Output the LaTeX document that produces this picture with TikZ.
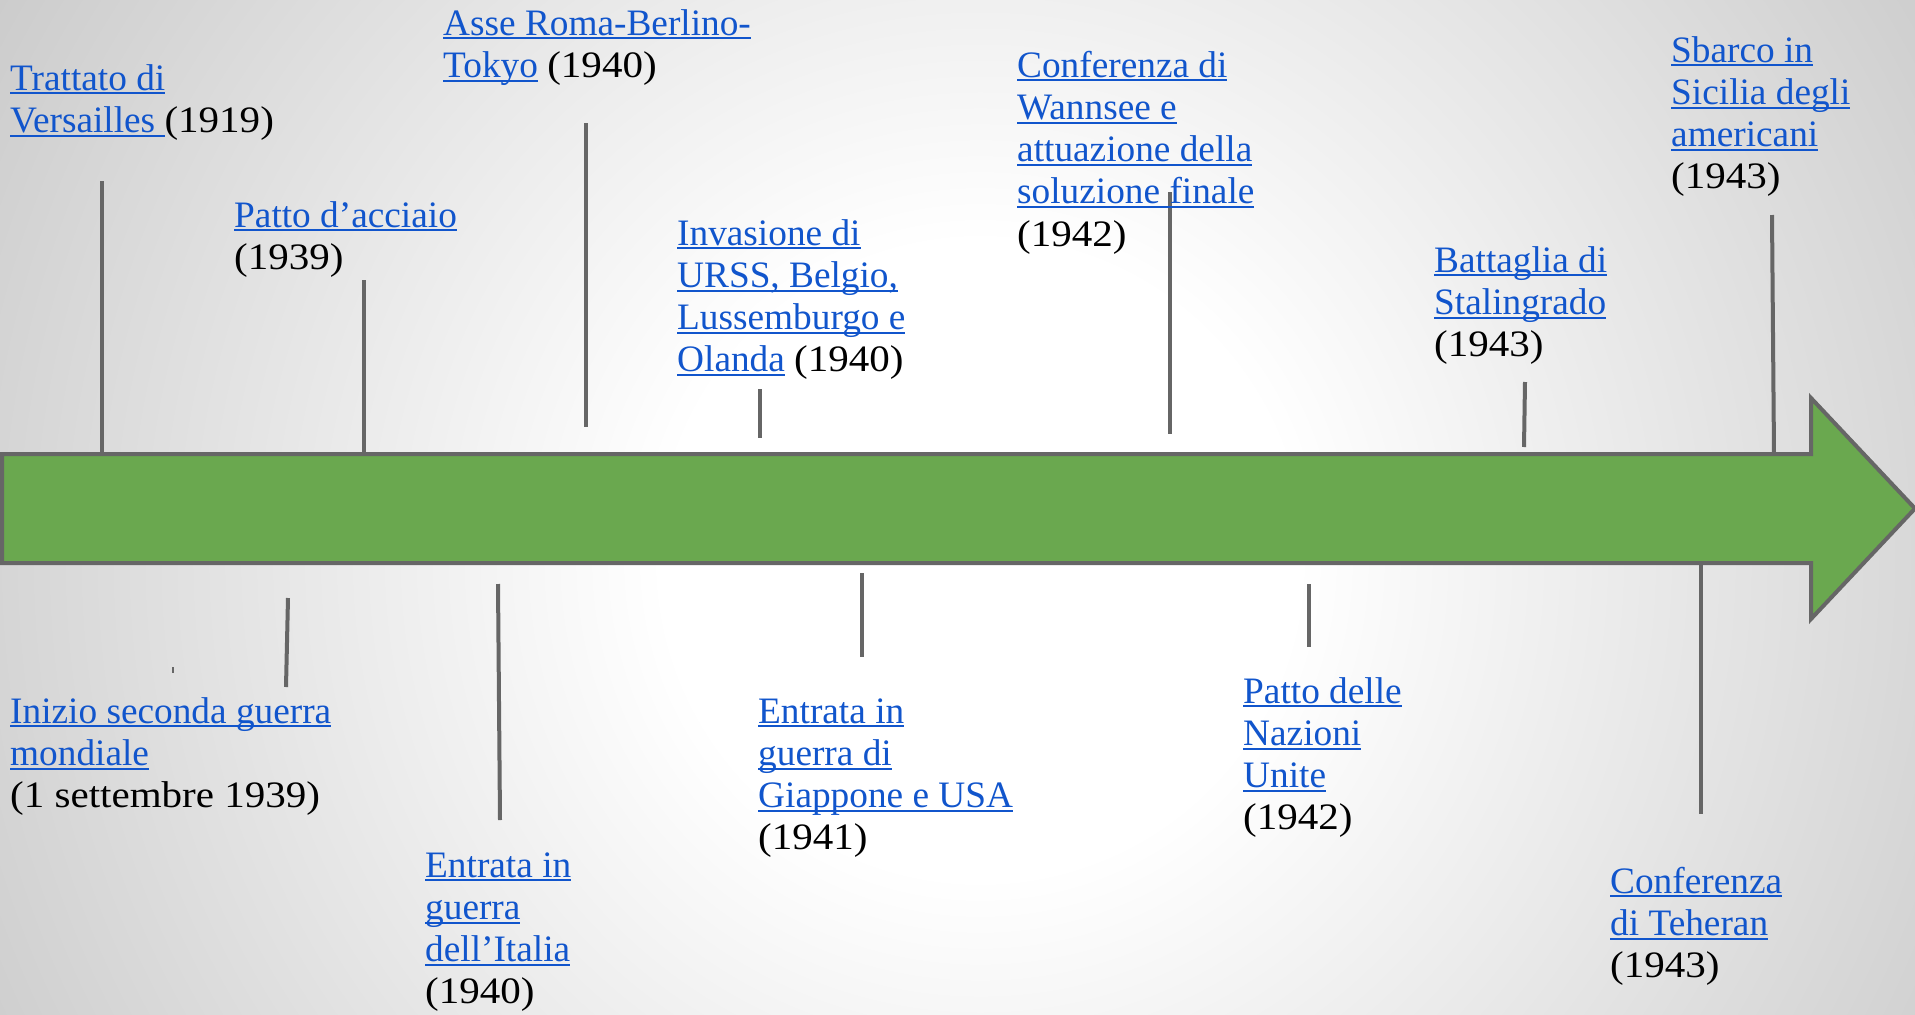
\documentclass[tikz,border=0pt]{standalone}
\usepackage{fontspec}
\setmainfont{Liberation Serif}
\definecolor{linkblue}{HTML}{1155CC}
\definecolor{arrowgreen}{HTML}{6AA84F}
\definecolor{linegray}{HTML}{666666}
\definecolor{bgedge}{gray}{0.8}
\pgfdeclareradialshading{bgshade}{\pgfpoint{0bp}{0bp}}{color(0bp)=(white); color(7bp)=(white); color(25bp)=(bgedge); color(50bp)=(bgedge)}
\newsavebox\lkbox
\newcommand\lk[1]{\sbox\lkbox{\color{linkblue}#1}\rlap{\color{linkblue}\rule[-4.3pt]{\wd\lkbox}{2pt}}\usebox\lkbox}
\newcommand\yr[1]{{\addfontfeatures{FakeStretch=1.1}#1}}
\newcommand\evlines[1]{\vtop{\baselineskip=42.3pt\lineskiplimit=-100pt\relax #1}}
\tikzset{
  evtext/.style={anchor=base west, inner sep=0pt, font=\fontsize{37.3}{42.3}\selectfont, text=black},
  stemline/.style={draw=linegray, line width=4pt},
  timearrow/.style={draw=linegray, line width=4pt, fill=arrowgreen, line join=miter}
}
\begin{document}
\begin{tikzpicture}[x=1pt,y=-1pt]
\useasboundingbox (0,0) rectangle (1915,1015);
\begin{scope}
\clip (0,0) rectangle (1915,1015);
\shade[shading=bgshade] (-150,-570) rectangle (2110,1690);
\end{scope}

% stem end points
\coordinate (s1a) at (102,181);   \coordinate (s1b) at (102,454);
\coordinate (s2a) at (364,280);   \coordinate (s2b) at (364,454);
\coordinate (s3a) at (586,123);   \coordinate (s3b) at (586,427);
\coordinate (s4a) at (760,389);   \coordinate (s4b) at (760,438);
\coordinate (s5a) at (1170,192);  \coordinate (s5b) at (1170,434);
\coordinate (s6a) at (1525,382);  \coordinate (s6b) at (1524,447);
\coordinate (s7a) at (1772,215);  \coordinate (s7b) at (1774,454);
\coordinate (s8a) at (288,598);   \coordinate (s8b) at (286,687);
\coordinate (s9a) at (498,584);   \coordinate (s9b) at (500,820);
\coordinate (s10a) at (862,573);  \coordinate (s10b) at (862,657);
\coordinate (s11a) at (1309,584); \coordinate (s11b) at (1309,647);
\coordinate (s12a) at (1701,565); \coordinate (s12b) at (1701,814);
\coordinate (m1a) at (173,667);   \coordinate (m1b) at (173,673);

\foreach \s in {1,...,12} {\draw[stemline] (s\s a) -- (s\s b);}
\draw[draw=linegray, line width=1.2pt] (m1a) -- (m1b);

% main arrow
\draw[timearrow] (2,454) -- (1811,454) -- (1811,398) -- (1915,508.5) -- (1811,619) -- (1811,563) -- (2,563) -- cycle;

% events above
\node[evtext] (e1) at (10,90) {\evlines{\hbox{\lk{Trattato di}}\hbox{\lk{Versailles\ }\yr{(1919)}}}};
\node[evtext] (e2) at (234,227) {\evlines{\hbox{\lk{Patto d’acciaio}}\hbox{\yr{(1939)}}}};
\node[evtext] (e3) at (443,35) {\evlines{\hbox{\lk{Asse Roma-Berlino-}}\hbox{\lk{Tokyo} \yr{(1940)}}}};
\node[evtext] (e4) at (677,245) {\evlines{\hbox{\lk{Invasione di}}\hbox{\lk{URSS, Belgio,}}\hbox{\lk{Lussemburgo e}}\hbox{\lk{Olanda} \yr{(1940)}}}};
\node[evtext] (e5) at (1017,77) {\evlines{\hbox{\lk{Conferenza di}}\hbox{\lk{Wannsee e}}\hbox{\lk{attuazione della}}\hbox{\lk{soluzione finale}}\hbox{\yr{(1942)}}}};
\node[evtext] (e6) at (1434,272) {\evlines{\hbox{\lk{Battaglia di}}\hbox{\lk{Stalingrado}}\hbox{\yr{(1943)}}}};
\node[evtext] (e7) at (1671,62) {\evlines{\hbox{\lk{Sbarco in}}\hbox{\lk{Sicilia degli}}\hbox{\lk{americani}}\hbox{\yr{(1943)}}}};

% events below
\node[evtext] (e8) at (10,723) {\evlines{\hbox{\lk{Inizio seconda guerra}}\hbox{\lk{mondiale}}\hbox{\yr{(1 settembre 1939)}}}};
\node[evtext] (e9) at (425,877) {\evlines{\hbox{\lk{Entrata in}}\hbox{\lk{guerra}}\hbox{\lk{dell’Italia}}\hbox{\yr{(1940)}}}};
\node[evtext] (e10) at (758,723) {\evlines{\hbox{\lk{Entrata in}}\hbox{\lk{guerra di}}\hbox{\lk{Giappone e USA}}\hbox{\yr{(1941)}}}};
\node[evtext] (e11) at (1243,703) {\evlines{\hbox{\lk{Patto delle}}\hbox{\lk{Nazioni}}\hbox{\lk{Unite}}\hbox{\yr{(1942)}}}};
\node[evtext] (e12) at (1610,893) {\evlines{\hbox{\lk{Conferenza}}\hbox{\lk{di Teheran}}\hbox{\yr{(1943)}}}};
\end{tikzpicture}
\end{document}
